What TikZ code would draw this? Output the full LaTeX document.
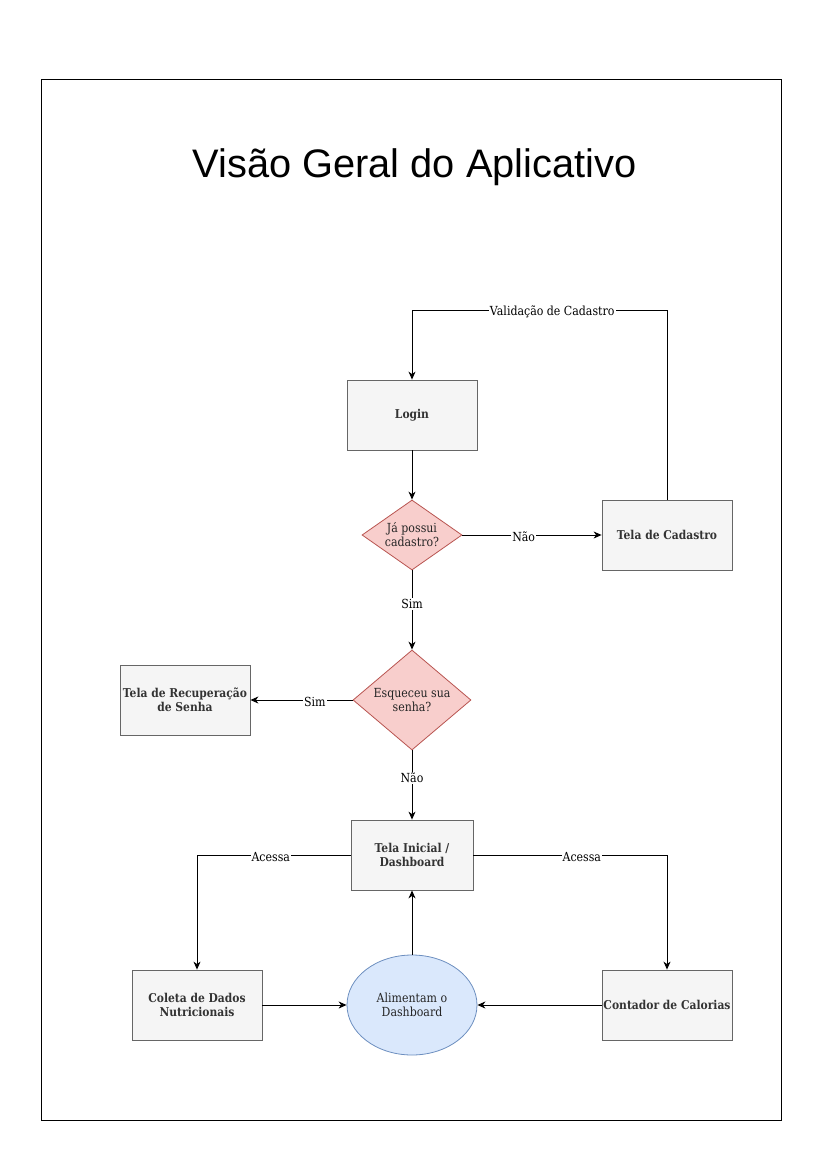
\documentclass[tikz,border=0pt]{standalone}
\usepackage{fontspec}
\usetikzlibrary{arrows.meta,shapes.geometric}
\newfontfamily\titlefont{Liberation Sans}
\newfontfamily\nfont[FakeStretch=0.88]{DejaVu Serif}
\definecolor{boxfill}{HTML}{F5F5F5}
\definecolor{boxline}{HTML}{666666}
\definecolor{boxtext}{HTML}{333333}
\definecolor{decfill}{HTML}{F8CECC}
\definecolor{decline}{HTML}{B85450}
\definecolor{ellfill}{HTML}{DAE8FC}
\definecolor{ellline}{HTML}{6C8EBF}
\tikzset{
  box/.style={draw=boxline, fill=boxfill, line width=0.8pt, minimum width=130pt, minimum height=70pt,
    inner sep=0pt, align=center, text=boxtext, font=\nfont\bfseries\fontsize{12.2}{14}\selectfont},
  decision/.style={shape=diamond, draw=decline, fill=decfill, line width=0.8pt, inner sep=0pt,
    align=center, text=black!85, font=\nfont\fontsize{12.5}{14}\selectfont},
  hub/.style={shape=ellipse, draw=ellline, fill=ellfill, line width=0.8pt, inner sep=0pt,
    minimum width=130pt, minimum height=100pt, align=center, text=black!85, font=\nfont\fontsize{12.5}{14}\selectfont},
  lbl/.style={fill=white, inner sep=1pt, text=black, yshift=-2pt, font=\nfont\fontsize{12.5}{14}\selectfont},
  arr/.style={draw=black, line width=1pt, -{Stealth[length=8pt,width=7pt,inset=2.5pt]}},
}
\begin{document}
\begin{tikzpicture}[x=1pt,y=-1pt]
\useasboundingbox (0,0) rectangle (827,1169);
\draw[line width=1pt] (41,80) rectangle (781,1120);
\node[font=\titlefont\fontsize{39.8}{44}\selectfont] (title) at (414.5,167) {Visão Geral do Aplicativo};

\node[box] (login) at (412,415) {Login};
\node[decision, minimum width=100pt, minimum height=70pt, aspect=1.43] (d1) at (412,535) {Já possui\\cadastro?};
\node[box] (cad) at (667,535) {Tela de Cadastro};
\node[decision, minimum width=118pt, minimum height=100pt, aspect=1.18] (d2) at (412,700) {Esqueceu sua\\senha?};
\node[box] (rec) at (185,700) {Tela de Recuperação\\de Senha};
\node[box, minimum width=122pt] (ti) at (412,855) {Tela Inicial /\\Dashboard};
\node[box] (col) at (197,1005) {Coleta de Dados\\Nutricionais};
\node[hub] (ell) at (412,1005) {Alimentam o\\Dashboard};
\node[box] (cont) at (667,1005) {Contador de Calorias};

\coordinate (vtop) at (412,310);
\draw[arr] (cad.north) |- node[lbl, pos=0.725] {Validação de Cadastro} (vtop) -- (login.north);
\draw[arr] (login.south) -- (d1.north);
\draw[arr] (d1.east) -- node[lbl, pos=0.44] {Não} (cad.west);
\draw[arr] (d1.south) -- node[lbl, pos=0.4] {Sim} (d2.north);
\draw[arr] (d2.west) -- node[lbl, pos=0.37] {Sim} (rec.east);
\draw[arr] (d2.south) -- node[lbl, pos=0.37] {Não} (ti.north);
\draw[arr] (ti.west) -| node[lbl, pos=0.26] {Acessa} (col.north);
\draw[arr] (ti.east) -| node[lbl, pos=0.28] {Acessa} (cont.north);
\draw[arr] (col.east) -- (ell.west);
\draw[arr] (cont.west) -- (ell.east);
\draw[arr] (ell.north) -- (ti.south);
\end{tikzpicture}
\end{document}
